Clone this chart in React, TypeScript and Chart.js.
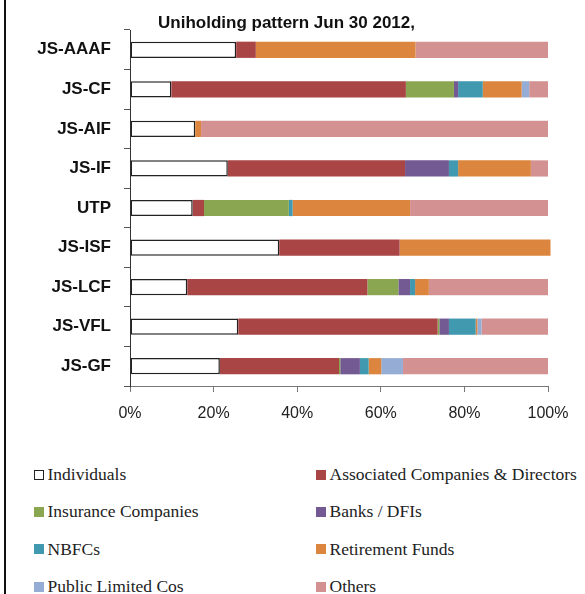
import React, { useEffect, useRef } from "react";
import { Chart, registerables } from "chart.js";

Chart.register(...registerables);

const titleText = "Uniholding pattern Jun 30 2012,";
const categories = ["JS-AAAF", "JS-CF", "JS-AIF", "JS-IF", "UTP", "JS-ISF", "JS-LCF", "JS-VFL", "JS-GF"];
const xTicks = [0, 20, 40, 60, 80, 100];

const individuals = [25.4, 9.9, 15.6, 23.4, 15.0, 35.7, 13.7, 25.9, 21.5];
const associated = [4.7, 56.1, 0, 42.4, 2.7, 28.8, 43.1, 47.7, 28.5];
const insurance = [0, 11.5, 0, 0, 20.3, 0, 7.4, 0.4, 0.3];
const banks = [0, 1.0, 0, 10.5, 0, 0, 2.8, 2.3, 4.7];
const nbfcs = [0, 5.9, 0, 2.2, 0.9, 0, 1.2, 6.4, 2.1];
const retirement = [38.2, 9.3, 1.4, 17.4, 28.1, 36.1, 3.3, 0.4, 3.0];
const publicLtd = [0, 1.8, 0, 0, 0, 0, 0, 1.0, 5.2];
const others = [31.7, 4.5, 83.0, 4.1, 33.0, 0, 28.5, 15.9, 34.7];

const seriesNames = [
  "Individuals",
  "Associated Companies & Directors",
  "Insurance Companies",
  "Banks / DFIs",
  "NBFCs",
  "Retirement Funds",
  "Public Limited Cos",
  "Others",
];
const seriesData = [individuals, associated, insurance, banks, nbfcs, retirement, publicLtd, others];
const seriesColors = ["#ffffff", "#A94545", "#8BA650", "#735A92", "#4199B0", "#DC853E", "#95ADD5", "#D49191"];

const titlePlugin = {
  id: "customTitle",
  afterDraw(chart: any) {
    const ctx = chart.ctx;
    ctx.save();
    ctx.font = "bold 17px 'Liberation Sans', Arial, sans-serif";
    ctx.fillStyle = "#111";
    ctx.textAlign = "center";
    ctx.textBaseline = "middle";
    ctx.fillText(titleText, 286.5, 23);
    ctx.restore();
  },
};

export default function App() {
  const ref = useRef<HTMLCanvasElement | null>(null);

  useEffect(() => {
    if (!ref.current) return;
    const chart = new Chart(ref.current, {
      type: "bar",
      data: {
        labels: categories,
        datasets: seriesData.map((d, i) => ({
          label: seriesNames[i],
          data: d,
          backgroundColor: seriesColors[i],
          borderColor: i === 0 ? "#222" : seriesColors[i],
          borderWidth: i === 0 ? 1.5 : 0,
          borderSkipped: false,
          categoryPercentage: 1,
          barPercentage: 0.41,
          clip: false as any,
        })),
      },
      options: {
        indexAxis: "y",
        animation: false,
        responsive: false,
        devicePixelRatio: 1,
        layout: { padding: { top: 30, right: 37, left: 0, bottom: 0 } },
        plugins: {
          legend: { display: false },
          title: { display: false },
          tooltip: { enabled: false },
        },
        scales: {
          x: {
            stacked: true,
            min: 0,
            max: 100,
            afterBuildTicks: (scale: any) => {
              scale.ticks = xTicks.map((v) => ({ value: v }));
            },
            ticks: {
              callback: (v: any) => v + "%",
              font: { family: "'Liberation Sans', Arial, sans-serif", size: 16 },
              color: "#222",
              padding: 12,
              maxRotation: 0,
            },
            grid: { drawOnChartArea: false, drawTicks: true, tickLength: 6, color: "#777" },
            border: { display: true, color: "#777", width: 1 },
            afterFit: (scale: any) => {
              scale.height = 54;
            },
          },
          y: {
            stacked: true,
            ticks: {
              font: { family: "'Liberation Sans', Arial, sans-serif", size: 17, weight: "bold" },
              color: "#111",
              padding: 13,
            },
            grid: { drawOnChartArea: false, drawTicks: true, tickLength: 6, color: "#555", offset: true },
            border: { display: true, color: "#333", width: 1 },
            afterFit: (scale: any) => {
              scale.width = 130;
            },
          },
        },
      } as any,
      plugins: [titlePlugin],
    });
    return () => chart.destroy();
  }, []);

  return (
    <div style={{ position: "absolute", left: 0, top: 0, width: 585, height: 594, overflow: "hidden", background: "#fff" }}>
      <div style={{ position: "absolute", left: 4, top: 0, width: 2, height: 594, background: "#111" }} />
      <canvas ref={ref} width={585} height={440} style={{ position: "absolute", left: 0, top: 0, width: 585, height: 440 }} />
      <div
        style={{
          position: "absolute",
          left: 34,
          top: 456,
          display: "grid",
          gridTemplateColumns: "282px 270px",
          gridAutoRows: "37.3px",
          fontFamily: "'Liberation Serif', 'Times New Roman', serif",
          fontSize: "17.5px",
          color: "#222",
        }}
      >
        {seriesNames.map((name, i) => (
          <div key={name} style={{ display: "flex", alignItems: "center", whiteSpace: "nowrap" }}>
            <span
              style={{
                display: "inline-block",
                width: i === 0 ? 8 : 10,
                height: i === 0 ? 8 : 10,
                background: seriesColors[i],
                border: i === 0 ? "1px solid #222" : "none",
                marginRight: 3.5,
                flex: "none",
              }}
            />
            <span>{name}</span>
          </div>
        ))}
      </div>
    </div>
  );
}
